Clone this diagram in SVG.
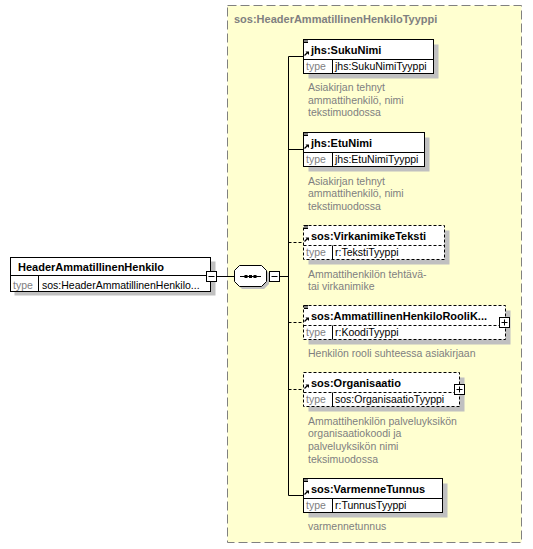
<svg xmlns="http://www.w3.org/2000/svg" width="533" height="549" viewBox="0 0 533 549">
<defs>
<style>
.bg{fill:#ffffff}
.frame{fill:#ffffd0;stroke:#808080;stroke-width:1;stroke-dasharray:9,4}
.title{font-family:"Liberation Sans",Arial,sans-serif;font-size:11px;font-weight:bold;fill:#808080}
.shadow{fill:#c0c0c0}
.box{fill:#ffffff;stroke:#000000;stroke-width:1}
.opt{stroke-dasharray:3,2}
.sep{stroke:#000000;stroke-width:1;fill:none}
.name{font-family:"Liberation Sans",Arial,sans-serif;font-size:11px;font-weight:bold;fill:#000000}
.lbl{font-family:"Liberation Sans",Arial,sans-serif;font-size:10.5px;fill:#808080}
.val{font-family:"Liberation Sans",Arial,sans-serif;font-size:10.5px;fill:#000000}
.doc{font-family:"Liberation Sans",Arial,sans-serif;font-size:10.5px;fill:#808080}
.line{stroke:#000000;stroke-width:1;fill:none}
.dline{stroke:#000000;stroke-width:1;fill:none;stroke-dasharray:3,2}
.btn{fill:#ffffff;stroke:#000000;stroke-width:1}
</style>
<g id="ico-list"><path d="M304 39.5h4M304 41h4M304 42.5h4" stroke="#000" stroke-width="1" fill="none"/></g>
<g id="ico-ref"><path d="M304.5 55.5L307.5 52.5" stroke="#000" stroke-width="1.2"/><path d="M305.5 51.5L309 51.5L309 55Z" fill="#000"/></g>
</defs>
<rect class="bg" x="0" y="0" width="533" height="549"/>

<g id="complexType">
<rect class="frame" x="227.5" y="5.5" width="294" height="537"/>
<text class="title" x="234" y="22.5">sos:HeaderAmmatillinenHenkiloTyyppi</text>
</g>

<g id="connectors">
<line class="line" x1="216" y1="276.5" x2="234" y2="276.5"/>
<line class="line" x1="266" y1="276.5" x2="288.5" y2="276.5"/>
<line class="line" x1="288.5" y1="56.5" x2="288.5" y2="495.5"/>
<line class="line" x1="288.5" y1="56.5" x2="303.5" y2="56.5"/>
<line class="line" x1="288.5" y1="149.5" x2="303.5" y2="149.5"/>
<line class="dline" x1="288.5" y1="242.5" x2="303.5" y2="242.5"/>
<line class="dline" x1="288.5" y1="322.5" x2="303.5" y2="322.5"/>
<line class="dline" x1="288.5" y1="389.5" x2="303.5" y2="389.5"/>
<line class="line" x1="288.5" y1="495.5" x2="303.5" y2="495.5"/>
</g>

<g id="root">
<rect class="shadow" x="14.5" y="261.5" width="201" height="34"/>
<rect class="box" x="10.5" y="257.5" width="200" height="34"/>
<line class="sep" x1="10.5" y1="275.5" x2="210.5" y2="275.5"/>
<line class="sep" x1="38.5" y1="275.5" x2="38.5" y2="291.5"/>
<text class="name" x="18" y="271">HeaderAmmatillinenHenkilo</text>
<text class="lbl" x="13" y="288.5">type</text>
<text class="val" x="42" y="288.5">sos:HeaderAmmatillinenHenkilo...</text>
<rect class="btn" x="206.5" y="271.5" width="10" height="10"/>
<line class="sep" x1="208.5" y1="276.5" x2="214.5" y2="276.5"/>
</g>

<g id="sequence">
<polygon class="shadow" points="242,268 264,268 269,273 269,284 264,289 242,289 237,284 237,273"/>
<polygon class="box" points="239.5,265.5 261.5,265.5 266.5,270.5 266.5,281.5 261.5,286.5 239.5,286.5 234.5,281.5 234.5,270.5"/>
<line class="sep" x1="240" y1="276.5" x2="261" y2="276.5"/>
<rect x="244.5" y="275" width="3" height="3" fill="#000"/>
<rect x="249" y="275" width="3" height="3" fill="#000"/>
<rect x="253.5" y="275" width="3" height="3" fill="#000"/>
<rect class="btn" x="269.5" y="271.5" width="10" height="10"/>
<line class="sep" x1="271.5" y1="276.5" x2="277.5" y2="276.5"/>
</g>

<g id="SukuNimi">
<rect class="shadow" x="308.5" y="44.5" width="130" height="34"/>
<rect class="box" x="303.5" y="39.5" width="130" height="34"/>
<line class="sep" x1="303.5" y1="59.5" x2="433.5" y2="59.5"/>
<line class="sep" x1="332.5" y1="59.5" x2="332.5" y2="73.5"/>
<use href="#ico-list"/>
<use href="#ico-ref"/>
<text class="name" x="311" y="53.5">jhs:SukuNimi</text>
<text class="lbl" x="306" y="70">type</text>
<text class="val" x="335" y="70">jhs:SukuNimiTyyppi</text>
<text class="doc" x="308" y="91">Asiakirjan tehnyt</text>
<text class="doc" x="308" y="103.7">ammattihenkilö, nimi</text>
<text class="doc" x="308" y="116.4">tekstimuodossa</text>
</g>

<g id="EtuNimi">
<rect class="shadow" x="308.5" y="137.5" width="121" height="34"/>
<rect class="box" x="303.5" y="132.5" width="121" height="34"/>
<line class="sep" x1="303.5" y1="152.5" x2="424.5" y2="152.5"/>
<line class="sep" x1="332.5" y1="152.5" x2="332.5" y2="166.5"/>
<use href="#ico-list" transform="translate(0,93)"/>
<use href="#ico-ref" transform="translate(0,93)"/>
<text class="name" x="311" y="146.5">jhs:EtuNimi</text>
<text class="lbl" x="306" y="163">type</text>
<text class="val" x="335" y="163">jhs:EtuNimiTyyppi</text>
<text class="doc" x="308" y="184.5">Asiakirjan tehnyt</text>
<text class="doc" x="308" y="197.2">ammattihenkilö, nimi</text>
<text class="doc" x="308" y="209.9">tekstimuodossa</text>
</g>

<g id="VirkanimikeTeksti">
<rect class="shadow" x="308.5" y="230.5" width="141" height="34"/>
<rect class="box opt" x="303.5" y="225.5" width="141" height="34"/>
<line class="sep opt" x1="303.5" y1="245.5" x2="444.5" y2="245.5"/>
<line class="sep" x1="332.5" y1="245.5" x2="332.5" y2="259.5"/>
<use href="#ico-list" transform="translate(0,186)"/>
<use href="#ico-ref" transform="translate(0,186)"/>
<text class="name" x="311" y="239.5">sos:VirkanimikeTeksti</text>
<text class="lbl" x="306" y="256">type</text>
<text class="val" x="335" y="256">r:TekstiTyyppi</text>
<text class="doc" x="308" y="277.5">Ammattihenkilön tehtävä-</text>
<text class="doc" x="308" y="290.2">tai virkanimike</text>
</g>

<g id="AmmatillinenHenkiloRooliKoodi">
<rect class="shadow" x="308.5" y="310.5" width="202" height="34"/>
<rect class="box opt" x="303.5" y="305.5" width="202" height="34"/>
<line class="sep opt" x1="303.5" y1="325.5" x2="505.5" y2="325.5"/>
<line class="sep" x1="332.5" y1="325.5" x2="332.5" y2="339.5"/>
<use href="#ico-list" transform="translate(0,266)"/>
<use href="#ico-ref" transform="translate(0,266)"/>
<text class="name" x="311" y="319.5">sos:AmmatillinenHenkiloRooliK...</text>
<text class="lbl" x="306" y="336">type</text>
<text class="val" x="335" y="336">r:KoodiTyyppi</text>
<rect class="btn" x="499.5" y="317.5" width="10" height="10"/>
<path class="sep" d="M501.5 322.5h6M504.5 319.5v6"/>
<text class="doc" x="308" y="357">Henkilön rooli suhteessa asiakirjaan</text>
</g>

<g id="Organisaatio">
<rect class="shadow" x="308.5" y="377.5" width="156" height="34"/>
<rect class="box opt" x="303.5" y="372.5" width="156" height="34"/>
<line class="sep opt" x1="303.5" y1="392.5" x2="459.5" y2="392.5"/>
<line class="sep" x1="332.5" y1="392.5" x2="332.5" y2="406.5"/>
<use href="#ico-ref" transform="translate(0,333)"/>
<text class="name" x="311" y="386.5">sos:Organisaatio</text>
<text class="lbl" x="306" y="403">type</text>
<text class="val" x="335" y="403">sos:OrganisaatioTyyppi</text>
<rect class="btn" x="454.5" y="384.5" width="10" height="10"/>
<path class="sep" d="M456.5 389.5h6M459.5 386.5v6"/>
<text class="doc" x="308" y="424.5">Ammattihenkilön palveluyksikön</text>
<text class="doc" x="308" y="437.2">organisaatiokoodi ja</text>
<text class="doc" x="308" y="449.9">palveluyksikön nimi</text>
<text class="doc" x="308" y="462.6">teksimuodossa</text>
</g>

<g id="VarmenneTunnus">
<rect class="shadow" x="308.5" y="483.5" width="139" height="34"/>
<rect class="box" x="303.5" y="478.5" width="139" height="34"/>
<line class="sep" x1="303.5" y1="498.5" x2="442.5" y2="498.5"/>
<line class="sep" x1="332.5" y1="498.5" x2="332.5" y2="512.5"/>
<use href="#ico-list" transform="translate(0,439)"/>
<use href="#ico-ref" transform="translate(0,439)"/>
<text class="name" x="311" y="492.5">sos:VarmenneTunnus</text>
<text class="lbl" x="306" y="509">type</text>
<text class="val" x="335" y="509">r:TunnusTyyppi</text>
<text class="doc" x="308" y="530">varmennetunnus</text>
</g>
</svg>
